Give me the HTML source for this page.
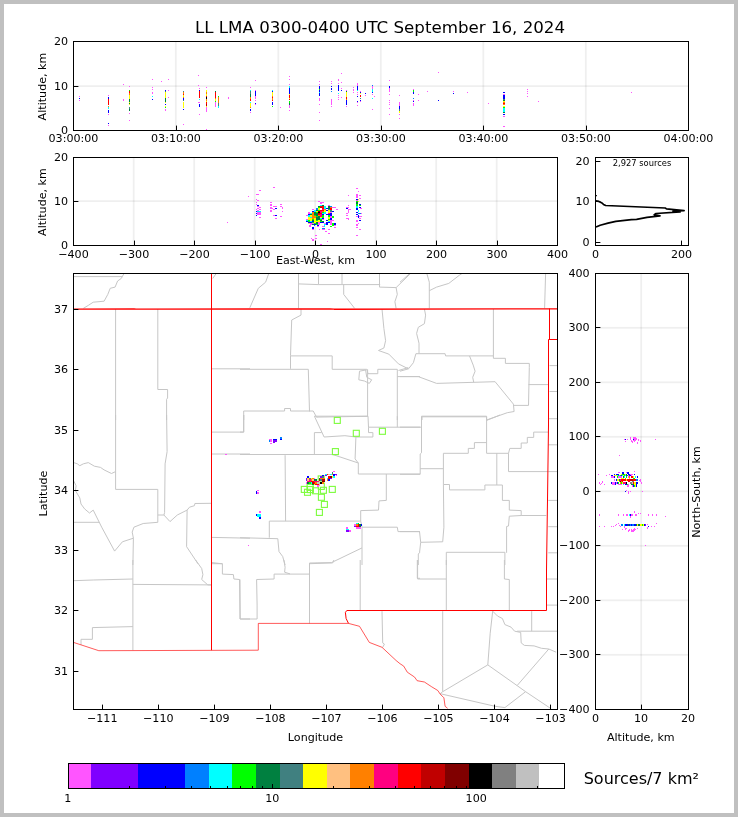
<!DOCTYPE html>
<html lang="en"><head><meta charset="utf-8"><title>LL LMA 0300-0400 UTC September 16, 2024</title>
<style>html,body{margin:0;padding:0;background:#c0c0c0}svg{display:block}text{white-space:pre}</style></head>
<body>
<svg width="738" height="817" viewBox="0 0 738 817" font-family='"DejaVu Sans","Liberation Sans",sans-serif' fill="#000">
<rect width="738" height="817" fill="#c0c0c0"/>
<rect x="4" y="4" width="730" height="809" fill="#fff"/>
<text x="380" y="33" font-size="16.67" text-anchor="middle">LL LMA 0300-0400 UTC September 16, 2024</text>
<rect x="174.9" y="42" width="1.8" height="88" fill="#000" fill-opacity="0.062"/>
<rect x="277.4" y="42" width="1.8" height="88" fill="#000" fill-opacity="0.062"/>
<rect x="379.9" y="42" width="1.8" height="88" fill="#000" fill-opacity="0.062"/>
<rect x="482.4" y="42" width="1.8" height="88" fill="#000" fill-opacity="0.062"/>
<rect x="584.9" y="42" width="1.8" height="88" fill="#000" fill-opacity="0.062"/>
<rect x="74" y="85.2" width="614" height="1.8" fill="#000" fill-opacity="0.062"/>
<g shape-rendering="crispEdges"><path fill="#ff55ff" d="M79 96h1v1h-1zM79 100h1v1h-1zM108 95h1v1h-1zM108 114h1v1h-1zM108 125h1v1h-1zM123 84h1v1h-1zM123 99h1v1h-1zM123 100h1v1h-1zM129 86h1v1h-1zM129 113h1v1h-1zM129 120h1v1h-1zM152 79h1v1h-1zM152 87h1v1h-1zM152 89h1v1h-1zM152 92h1v1h-1zM152 93h1v1h-1zM161 81h1v1h-1zM165 109h1v1h-1zM165 110h1v1h-1zM168 79h1v1h-1zM168 90h1v1h-1zM168 97h1v1h-1zM183 124h1v1h-1zM198 75h1v1h-1zM198 85h1v1h-1zM199 88h1v1h-1zM199 114h1v1h-1zM198 102h2v1h-2zM206 87h1v1h-1zM206 107h1v1h-1zM206 108h1v1h-1zM206 109h1v1h-1zM206 110h1v1h-1zM206 111h1v1h-1zM206 129h1v1h-1zM215 102h1v1h-1zM215 103h1v1h-1zM215 104h1v1h-1zM215 105h1v1h-1zM215 106h1v1h-1zM228 97h1v1h-1zM228 98h1v1h-1zM250 87h1v1h-1zM250 112h1v1h-1zM255 80h1v1h-1zM255 90h1v1h-1zM255 96h1v1h-1zM255 97h1v1h-1zM255 98h1v1h-1zM255 100h1v1h-1zM255 104h1v1h-1zM280 107h1v1h-1zM289 76h1v1h-1zM289 79h1v1h-1zM289 84h1v1h-1zM289 105h1v1h-1zM289 106h1v1h-1zM289 107h1v1h-1zM289 110h1v1h-1zM319 81h1v1h-1zM319 84h1v1h-1zM319 98h1v1h-1zM319 99h1v1h-1zM319 100h1v1h-1zM319 104h1v1h-1zM319 112h1v1h-1zM319 120h1v1h-1zM331 81h1v1h-1zM331 83h1v1h-1zM331 99h1v1h-1zM331 100h1v1h-1zM331 101h1v1h-1zM331 102h1v1h-1zM331 103h1v1h-1zM331 104h1v1h-1zM331 106h1v1h-1zM338 79h1v1h-1zM338 80h1v1h-1zM338 83h1v1h-1zM338 95h1v1h-1zM338 97h1v1h-1zM338 99h1v1h-1zM341 73h1v1h-1zM341 82h1v1h-1zM341 88h1v1h-1zM341 97h1v1h-1zM346 90h1v1h-1zM346 106h1v1h-1zM353 87h1v1h-1zM353 89h1v1h-1zM353 90h1v1h-1zM353 92h1v1h-1zM357 83h1v1h-1zM357 84h1v1h-1zM357 85h1v1h-1zM357 92h1v1h-1zM357 94h1v1h-1zM357 102h1v1h-1zM357 105h1v1h-1zM360 91h1v1h-1zM360 101h1v1h-1zM365 95h1v1h-1zM372 86h1v1h-1zM372 87h1v1h-1zM372 88h1v1h-1zM372 94h1v1h-1zM372 109h1v1h-1zM374 96h1v1h-1zM389 80h1v1h-1zM389 88h1v1h-1zM389 89h1v1h-1zM389 90h1v1h-1zM389 91h1v1h-1zM389 94h1v1h-1zM389 100h1v1h-1zM389 102h1v1h-1zM389 104h1v1h-1zM389 108h1v1h-1zM389 114h1v1h-1zM399 95h1v1h-1zM399 102h1v1h-1zM399 103h1v1h-1zM399 104h1v1h-1zM399 105h1v1h-1zM399 114h1v1h-1zM399 118h1v1h-1zM413 89h1v1h-1zM413 100h1v1h-1zM413 103h1v1h-1zM413 104h1v1h-1zM413 105h1v1h-1zM418 94h1v1h-1zM418 100h1v1h-1zM427 91h1v1h-1zM438 72h1v1h-1zM453 91h1v1h-1zM467 92h1v1h-1zM488 103h1v1h-1zM503 94h2v1h-2zM503 116h2v1h-2zM503 126h2v1h-2zM527 89h1v1h-1zM527 91h1v1h-1zM527 93h1v1h-1zM527 96h1v1h-1zM538 101h1v1h-1zM631 92h1v1h-1z"/><path fill="#0000ff" d="M79 98h1v1h-1zM108 97h1v1h-1zM108 98h1v1h-1zM108 99h1v1h-1zM108 110h1v1h-1zM108 111h1v1h-1zM108 112h1v1h-1zM108 123h1v1h-1zM152 99h1v1h-1zM165 90h1v1h-1zM165 104h1v1h-1zM183 98h1v1h-1zM183 99h1v1h-1zM183 109h1v1h-1zM199 90h1v1h-1zM199 104h1v1h-1zM199 105h1v1h-1zM199 106h1v1h-1zM250 109h1v1h-1zM250 110h1v1h-1zM255 91h1v1h-1zM255 92h1v1h-1zM255 93h1v1h-1zM255 94h1v1h-1zM255 95h1v1h-1zM255 103h1v1h-1zM272 91h1v1h-1zM272 102h1v1h-1zM272 103h1v1h-1zM272 104h1v1h-1zM289 88h1v1h-1zM289 89h1v1h-1zM289 90h1v1h-1zM289 91h1v1h-1zM289 92h1v1h-1zM289 93h1v1h-1zM319 86h1v1h-1zM319 87h1v1h-1zM319 88h1v1h-1zM319 90h1v1h-1zM319 91h1v1h-1zM319 93h1v1h-1zM319 94h1v1h-1zM319 95h1v1h-1zM331 86h1v1h-1zM331 88h1v1h-1zM331 89h1v1h-1zM338 85h1v1h-1zM338 86h1v1h-1zM338 87h1v1h-1zM338 88h1v1h-1zM338 89h1v1h-1zM338 90h1v1h-1zM341 90h1v1h-1zM346 100h1v1h-1zM346 101h1v1h-1zM346 102h1v1h-1zM346 103h1v1h-1zM346 104h1v1h-1zM357 86h1v1h-1zM357 87h1v1h-1zM357 88h1v1h-1zM357 89h1v1h-1zM357 96h1v1h-1zM357 101h1v1h-1zM360 92h1v1h-1zM360 100h1v1h-1zM365 93h1v1h-1zM372 92h1v1h-1zM389 86h1v1h-1zM389 87h1v1h-1zM399 106h1v1h-1zM399 107h1v1h-1zM399 108h1v1h-1zM413 92h1v1h-1zM413 93h1v1h-1zM413 101h1v1h-1zM438 100h1v1h-1zM453 93h1v1h-1zM503 92h2v1h-2zM503 95h2v1h-2zM503 96h2v1h-2zM503 97h2v1h-2zM503 98h2v1h-2zM503 114h2v1h-2z"/><path fill="#ff0000" d="M108 99h1v1h-1zM108 100h1v1h-1zM108 101h1v1h-1zM108 102h1v1h-1zM108 103h1v1h-1zM108 104h1v1h-1zM129 91h1v1h-1zM129 92h1v1h-1zM129 93h1v1h-1zM183 94h1v1h-1zM199 91h1v1h-1zM199 92h1v1h-1zM199 93h1v1h-1zM199 94h1v1h-1zM199 95h1v1h-1zM199 96h1v1h-1zM199 97h1v1h-1zM206 96h1v1h-1zM206 102h1v1h-1zM206 103h1v1h-1zM215 92h1v1h-1zM215 93h1v1h-1zM215 94h1v1h-1zM215 95h1v1h-1zM215 96h1v1h-1zM215 97h1v1h-1zM250 99h1v1h-1zM250 100h1v1h-1zM272 97h1v1h-1zM272 100h1v1h-1zM289 95h1v1h-1zM289 96h1v1h-1zM289 97h1v1h-1zM289 99h1v1h-1zM346 97h1v1h-1zM346 98h1v1h-1zM360 95h1v1h-1zM360 96h1v1h-1zM503 103h2v1h-2z"/><path fill="#ff8000" d="M108 106h1v1h-1zM129 93h1v1h-1zM129 94h1v1h-1zM129 95h1v1h-1zM183 92h1v1h-1zM183 93h1v1h-1zM183 97h1v1h-1zM206 92h1v1h-1zM206 93h1v1h-1zM206 99h1v1h-1zM206 100h1v1h-1zM215 98h1v1h-1zM218 97h1v1h-1zM218 98h1v1h-1zM218 99h1v1h-1zM218 100h1v1h-1zM218 101h1v1h-1zM218 102h1v1h-1zM250 97h1v1h-1zM250 98h1v1h-1zM250 107h1v1h-1zM272 95h1v1h-1zM272 96h1v1h-1zM272 98h1v1h-1zM272 99h1v1h-1zM346 99h1v1h-1zM503 102h2v1h-2zM503 104h2v1h-2z"/><path fill="#00ffff" d="M108 107h1v1h-1zM108 108h1v1h-1zM152 96h1v1h-1zM199 99h1v1h-1zM218 106h1v1h-1zM218 107h1v1h-1zM250 90h1v1h-1zM250 102h1v1h-1zM272 90h1v1h-1zM289 86h1v1h-1zM289 87h1v1h-1zM319 92h1v1h-1zM338 93h1v1h-1zM357 90h1v1h-1zM372 89h1v1h-1zM372 90h1v1h-1zM372 91h1v1h-1zM372 98h1v1h-1zM399 112h1v1h-1zM503 108h2v1h-2zM503 109h2v1h-2zM503 110h2v1h-2zM503 111h2v1h-2z"/><path fill="#00ff00" d="M129 90h1v1h-1zM165 107h1v1h-1zM215 101h1v1h-1zM218 96h1v1h-1zM272 106h1v1h-1zM289 101h1v1h-1zM289 102h1v1h-1zM319 89h1v1h-1zM413 90h1v1h-1zM413 91h1v1h-1zM503 107h2v1h-2z"/><path fill="#ffff00" d="M129 95h1v1h-1zM129 96h1v1h-1zM129 97h1v1h-1zM129 98h1v1h-1zM129 99h1v1h-1zM129 102h1v1h-1zM129 104h1v1h-1zM165 92h1v1h-1zM165 93h1v1h-1zM165 94h1v1h-1zM165 95h1v1h-1zM165 96h1v1h-1zM165 97h1v1h-1zM165 102h1v1h-1zM165 106h1v1h-1zM183 95h1v1h-1zM183 96h1v1h-1zM183 102h1v1h-1zM183 103h1v1h-1zM183 104h1v1h-1zM183 105h1v1h-1zM183 106h1v1h-1zM183 107h1v1h-1zM206 90h1v1h-1zM206 91h1v1h-1zM206 94h1v1h-1zM206 95h1v1h-1zM206 101h1v1h-1zM206 106h1v1h-1zM215 99h1v1h-1zM215 100h1v1h-1zM250 103h1v1h-1zM250 104h1v1h-1zM250 105h1v1h-1zM250 106h1v1h-1zM272 92h1v1h-1zM272 93h1v1h-1zM272 94h1v1h-1zM272 95h1v1h-1zM289 94h1v1h-1zM289 98h1v1h-1zM346 92h1v1h-1zM346 93h1v1h-1zM346 94h1v1h-1zM346 95h1v1h-1zM346 96h1v1h-1zM360 93h1v1h-1zM399 111h1v1h-1zM399 112h1v1h-1zM503 101h2v1h-2zM503 106h2v1h-2z"/><path fill="#008040" d="M129 99h1v1h-1zM129 100h1v1h-1zM129 101h1v1h-1zM129 103h1v1h-1zM129 109h1v1h-1zM129 110h1v1h-1zM165 98h1v1h-1zM165 99h1v1h-1zM165 100h1v1h-1zM165 101h1v1h-1zM215 91h1v1h-1zM250 94h1v1h-1zM250 95h1v1h-1zM250 96h1v1h-1zM289 103h1v1h-1zM289 104h1v1h-1zM346 91h1v1h-1zM503 100h2v1h-2zM503 112h2v1h-2z"/><path fill="#408080" d="M129 107h1v1h-1zM129 108h1v1h-1zM165 91h1v1h-1zM183 91h1v1h-1zM183 100h1v1h-1zM218 103h1v1h-1zM218 104h1v1h-1zM218 105h1v1h-1zM250 91h1v1h-1zM250 92h1v1h-1zM250 93h1v1h-1zM360 98h1v1h-1zM399 109h1v1h-1zM399 110h1v1h-1zM503 99h2v1h-2z"/><path fill="#000000" d="M206 97h1v1h-1zM206 98h1v1h-1z"/><path fill="#c00000" d="M206 104h1v1h-1zM206 105h1v1h-1z"/><path fill="#0080ff" d="M331 91h1v1h-1zM372 85h1v1h-1zM413 98h1v1h-1z"/></g>
<path shape-rendering="crispEdges" d="M73.5 41.5H688.5V130.5H73.5Z" fill="none" stroke="#000" stroke-width="1"/>
<rect x="176" y="125.6" width="1" height="5.4" fill="#000"/>
<rect x="278" y="125.6" width="1" height="5.4" fill="#000"/>
<rect x="381" y="125.6" width="1" height="5.4" fill="#000"/>
<rect x="483" y="125.6" width="1" height="5.4" fill="#000"/>
<rect x="586" y="125.6" width="1" height="5.4" fill="#000"/>
<rect x="73" y="86" width="5.4" height="1" fill="#000"/>
<text x="73.5" y="142" font-size="11.11" text-anchor="middle">03:00:00</text>
<text x="176" y="142" font-size="11.11" text-anchor="middle">03:10:00</text>
<text x="278.5" y="142" font-size="11.11" text-anchor="middle">03:20:00</text>
<text x="381" y="142" font-size="11.11" text-anchor="middle">03:30:00</text>
<text x="483.5" y="142" font-size="11.11" text-anchor="middle">03:40:00</text>
<text x="586" y="142" font-size="11.11" text-anchor="middle">03:50:00</text>
<text x="688.5" y="142" font-size="11.11" text-anchor="middle">04:00:00</text>
<text x="68.2" y="134" font-size="11.11" text-anchor="end">0</text>
<text x="68.2" y="89.5" font-size="11.11" text-anchor="end">10</text>
<text x="68.2" y="45" font-size="11.11" text-anchor="end">20</text>
<text x="46" y="86.5" font-size="11.11" text-anchor="middle" transform="rotate(-90 46 86.5)">Altitude, km</text>
<rect x="132.8" y="158" width="1.8" height="87" fill="#000" fill-opacity="0.062"/>
<rect x="193.3" y="158" width="1.8" height="87" fill="#000" fill-opacity="0.062"/>
<rect x="253.8" y="158" width="1.8" height="87" fill="#000" fill-opacity="0.062"/>
<rect x="314.3" y="158" width="1.8" height="87" fill="#000" fill-opacity="0.062"/>
<rect x="374.8" y="158" width="1.8" height="87" fill="#000" fill-opacity="0.062"/>
<rect x="435.3" y="158" width="1.8" height="87" fill="#000" fill-opacity="0.062"/>
<rect x="495.8" y="158" width="1.8" height="87" fill="#000" fill-opacity="0.062"/>
<rect x="74" y="200.2" width="483" height="1.8" fill="#000" fill-opacity="0.062"/>
<g shape-rendering="crispEdges"><path fill="#ff55ff" d="M318 201h2v1h-2zM320 202h2v1h-2zM322 202h2v1h-2zM320 203h2v1h-2zM328 205h2v1h-2zM332 207h2v1h-2zM334 207h2v1h-2zM312 209h2v1h-2zM336 209h2v1h-2zM308 212h2v1h-2zM330 212h2v1h-2zM308 213h2v1h-2zM306 215h2v1h-2zM330 216h2v1h-2zM330 217h2v1h-2zM306 219h2v1h-2zM322 219h2v1h-2zM330 220h2v1h-2zM332 220h2v1h-2zM330 221h2v1h-2zM318 222h2v1h-2zM330 222h2v1h-2zM310 223h2v1h-2zM312 223h2v1h-2zM318 223h2v1h-2zM324 223h2v1h-2zM330 223h2v1h-2zM310 224h2v1h-2zM318 224h2v1h-2zM330 224h2v1h-2zM309 225h2v2h-2zM312 229h2v1h-2zM317 226h2v1h-2zM319 229h1v1h-1zM322 226h2v1h-2zM322 229h3v1h-3zM328 229h2v1h-2zM325 231h2v1h-2zM328 233h2v1h-2zM334 225h2v1h-2zM315 235h2v1h-2zM315 238h2v1h-2zM311 238h1v1h-1zM312 239h2v2h-2zM327 241h1v1h-1zM320 244h2v1h-2zM334 227h2v1h-2zM227 222h1v1h-1zM248 196h1v1h-1zM259 190h2v1h-2zM256 194h3v1h-3zM256 199h1v1h-1zM257 200h2v1h-2zM256 202h1v1h-1zM256 204h1v1h-1zM257 206h2v1h-2zM259 207h2v1h-2zM257 208h2v1h-2zM256 209h1v1h-1zM259 209h2v1h-2zM257 210h2v1h-2zM257 212h4v1h-4zM257 213h4v1h-4zM257 214h4v1h-4zM259 217h2v1h-2zM273 187h2v1h-2zM270 202h2v1h-2zM270 204h2v1h-2zM270 205h2v1h-2zM273 206h4v1h-4zM280 204h2v1h-2zM280 206h2v1h-2zM270 207h2v1h-2zM270 208h3v1h-3zM282 207h1v1h-1zM282 208h1v1h-1zM273 209h2v1h-2zM270 210h2v1h-2zM270 211h2v1h-2zM282 211h1v1h-1zM273 215h2v1h-2zM280 216h2v1h-2zM275 218h2v1h-2zM348 195h1v1h-1zM348 205h1v1h-1zM346 207h3v1h-3zM348 209h3v1h-3zM348 210h1v1h-1zM348 211h1v1h-1zM348 212h1v1h-1zM346 213h2v1h-2zM346 215h2v1h-2zM346 218h3v1h-3zM348 219h1v1h-1zM356 188h2v1h-2zM358 191h1v1h-1zM356 194h2v1h-2zM356 195h2v1h-2zM359 195h2v1h-2zM356 196h2v1h-2zM356 197h2v1h-2zM359 198h2v1h-2zM356 200h2v1h-2zM360 208h2v1h-2zM361 213h1v1h-1zM359 216h3v1h-3zM356 216h2v1h-2zM359 218h2v1h-2zM356 220h2v1h-2zM356 221h2v1h-2zM358 223h1v1h-1zM356 224h2v1h-2zM356 225h2v1h-2zM356 227h2v1h-2zM359 229h2v1h-2zM356 235h2v1h-2z"/><path fill="#00ffff" d="M320 205h2v1h-2zM324 206h2v1h-2zM324 207h2v1h-2zM324 208h2v1h-2zM314 210h2v1h-2zM314 211h2v1h-2zM324 212h2v1h-2zM310 213h2v1h-2zM322 213h2v1h-2zM324 213h2v1h-2zM308 215h2v1h-2zM308 216h2v1h-2zM310 217h2v1h-2zM320 218h2v1h-2zM306 220h2v1h-2zM310 221h2v1h-2zM328 221h2v1h-2zM324 224h2v1h-2zM324 225h1v2h-1zM257 211h4v1h-4zM356 206h2v1h-2zM356 207h2v1h-2zM358 210h1v1h-1zM358 211h1v1h-1z"/><path fill="#008040" d="M322 205h2v1h-2zM318 206h2v1h-2zM328 206h2v1h-2zM328 207h2v1h-2zM328 208h2v1h-2zM316 210h2v1h-2zM314 212h2v1h-2zM314 213h2v1h-2zM316 213h2v1h-2zM310 214h2v1h-2zM314 214h2v1h-2zM316 214h2v1h-2zM316 215h2v1h-2zM318 216h2v1h-2zM316 217h2v1h-2zM318 217h2v1h-2zM316 218h2v1h-2zM318 218h2v1h-2zM316 219h2v1h-2zM318 219h2v1h-2zM312 220h2v1h-2zM320 220h2v1h-2zM322 221h2v1h-2zM316 222h2v1h-2zM316 223h2v1h-2zM312 224h2v1h-2zM356 202h2v1h-2zM356 203h2v1h-2z"/><path fill="#ff0000" d="M320 206h2v1h-2zM322 206h2v1h-2zM322 207h2v1h-2zM322 208h2v1h-2zM330 208h2v1h-2zM330 209h2v1h-2zM320 210h2v1h-2zM322 210h2v1h-2zM320 213h2v1h-2zM318 214h2v1h-2zM319 207h1v3h-1z"/><path fill="#0080ff" d="M330 206h2v1h-2zM316 208h2v1h-2zM316 209h2v1h-2zM314 225h1v1h-1zM322 228h3v1h-3zM358 213h3v1h-3z"/><path fill="#00ff00" d="M318 207h2v1h-2zM318 210h2v1h-2zM316 212h2v1h-2zM322 212h2v1h-2zM314 215h2v1h-2zM322 215h2v1h-2zM328 215h2v1h-2zM316 216h2v1h-2zM322 216h2v1h-2zM328 216h2v1h-2zM332 216h2v1h-2zM322 217h2v1h-2zM332 217h2v1h-2zM312 219h2v1h-2zM320 219h2v1h-2zM328 219h2v1h-2zM308 220h2v1h-2zM316 220h2v1h-2zM308 221h2v1h-2zM320 221h2v1h-2zM312 222h2v1h-2zM314 223h2v1h-2zM332 223h2v1h-2zM316 224h2v1h-2zM332 224h2v1h-2zM332 225h2v1h-2zM330 226h2v1h-2zM356 201h2v1h-2zM356 204h2v1h-2zM356 205h2v1h-2zM359 205h2v1h-2z"/><path fill="#c00000" d="M320 207h2v1h-2zM318 213h2v1h-2z"/><path fill="#ff8000" d="M330 207h2v1h-2zM324 209h2v1h-2zM322 211h2v1h-2zM312 212h2v1h-2zM312 213h2v1h-2zM312 214h2v1h-2zM312 215h2v1h-2zM318 215h2v1h-2zM312 216h2v1h-2zM314 216h2v1h-2zM312 217h2v1h-2zM314 217h2v1h-2zM312 218h2v1h-2z"/><path fill="#ffff00" d="M318 208h2v1h-2zM318 209h2v1h-2zM324 210h2v1h-2zM328 210h2v1h-2zM316 211h2v1h-2zM324 211h2v1h-2zM328 211h2v1h-2zM328 212h2v1h-2zM310 215h2v1h-2zM310 216h2v1h-2zM308 217h2v1h-2zM320 217h2v1h-2zM328 217h2v1h-2zM308 218h2v1h-2zM310 218h2v1h-2zM314 218h2v1h-2zM328 218h2v1h-2zM308 219h2v1h-2zM310 219h2v1h-2zM314 219h2v1h-2zM310 220h2v1h-2zM314 220h2v1h-2zM318 220h2v1h-2zM328 220h2v1h-2zM314 221h2v1h-2zM316 221h2v1h-2zM318 221h2v1h-2zM314 222h2v1h-2zM358 199h1v1h-1zM358 201h1v1h-1z"/><path fill="#ffffff" d="M320 208h2v1h-2zM320 209h2v1h-2z"/><path fill="#0000ff" d="M326 208h2v1h-2zM326 210h2v1h-2zM312 211h2v1h-2zM332 211h2v1h-2zM330 213h2v1h-2zM308 214h2v1h-2zM322 214h2v1h-2zM326 214h2v1h-2zM328 214h2v1h-2zM330 214h2v1h-2zM330 215h2v1h-2zM322 218h2v1h-2zM330 218h2v1h-2zM330 219h2v1h-2zM326 220h2v1h-2zM306 221h2v1h-2zM312 221h2v1h-2zM308 222h2v1h-2zM310 222h2v1h-2zM320 222h2v1h-2zM322 222h2v1h-2zM326 222h2v1h-2zM328 222h2v1h-2zM326 223h2v1h-2zM334 223h2v1h-2zM314 224h2v1h-2zM326 224h2v1h-2zM334 224h2v1h-2zM312 227h2v2h-2zM317 225h2v1h-2zM257 205h2v1h-2zM256 211h1v1h-1zM256 213h1v1h-1zM256 215h1v1h-1zM275 208h2v1h-2zM275 215h2v1h-2zM346 208h2v1h-2zM356 199h2v1h-2zM359 204h2v1h-2zM359 207h2v1h-2zM356 208h2v1h-2zM356 209h2v1h-2zM356 212h2v1h-2zM356 214h2v1h-2zM358 215h1v1h-1zM358 216h1v1h-1zM358 217h1v1h-1zM359 220h2v1h-2z"/><path fill="#ff0080" d="M322 209h2v1h-2zM320 211h2v1h-2zM320 212h2v1h-2zM328 213h2v1h-2zM320 214h2v1h-2zM320 215h2v1h-2zM320 216h2v1h-2z"/><path fill="#408080" d="M328 209h2v1h-2zM330 210h2v1h-2zM330 211h2v1h-2z"/><path fill="#800000" d="M318 211h2v1h-2z"/><path fill="#000000" d="M318 212h2v1h-2z"/><path fill="#ffc080" d="M308 223h2v1h-2z"/></g>
<path shape-rendering="crispEdges" d="M73.5 157.5H557.5V245.5H73.5Z" fill="none" stroke="#000" stroke-width="1"/>
<rect x="134" y="240.6" width="1" height="5.4" fill="#000"/>
<rect x="194" y="240.6" width="1" height="5.4" fill="#000"/>
<rect x="255" y="240.6" width="1" height="5.4" fill="#000"/>
<rect x="315" y="240.6" width="1" height="5.4" fill="#000"/>
<rect x="376" y="240.6" width="1" height="5.4" fill="#000"/>
<rect x="436" y="240.6" width="1" height="5.4" fill="#000"/>
<rect x="497" y="240.6" width="1" height="5.4" fill="#000"/>
<rect x="73" y="201" width="5.4" height="1" fill="#000"/>
<text x="73.5" y="258" font-size="11.11" text-anchor="middle">−400</text>
<text x="134" y="258" font-size="11.11" text-anchor="middle">−300</text>
<text x="194.5" y="258" font-size="11.11" text-anchor="middle">−200</text>
<text x="255" y="258" font-size="11.11" text-anchor="middle">−100</text>
<text x="315.5" y="258" font-size="11.11" text-anchor="middle">0</text>
<text x="376" y="258" font-size="11.11" text-anchor="middle">100</text>
<text x="436.5" y="258" font-size="11.11" text-anchor="middle">200</text>
<text x="497" y="258" font-size="11.11" text-anchor="middle">300</text>
<text x="557.5" y="258" font-size="11.11" text-anchor="middle">400</text>
<text x="68.2" y="249" font-size="11.11" text-anchor="end">0</text>
<text x="68.2" y="205" font-size="11.11" text-anchor="end">10</text>
<text x="68.2" y="161" font-size="11.11" text-anchor="end">20</text>
<text x="46" y="202" font-size="11.11" text-anchor="middle" transform="rotate(-90 46 202)">Altitude, km</text>
<text x="315.5" y="263.6" font-size="11.11" text-anchor="middle">East-West, km</text>
<path shape-rendering="crispEdges" d="M595.5 157.5H688.5V245.5H595.5Z" fill="none" stroke="#000" stroke-width="1"/>
<rect x="595" y="242" width="5.4" height="1" fill="#000"/>
<rect x="595" y="201" width="5.4" height="1" fill="#000"/>
<rect x="595" y="161" width="5.4" height="1" fill="#000"/>
<rect x="595" y="240.6" width="1" height="5.4" fill="#000"/>
<rect x="681" y="240.6" width="1" height="5.4" fill="#000"/>
<text x="589.6" y="246" font-size="11.11" text-anchor="end">0</text>
<text x="589.6" y="205.1" font-size="11.11" text-anchor="end">10</text>
<text x="589.6" y="165" font-size="11.11" text-anchor="end">20</text>
<text x="595.5" y="258" font-size="11.11" text-anchor="middle">0</text>
<text x="681.5" y="258" font-size="11.11" text-anchor="middle">200</text>
<text x="642" y="166.2" font-size="8.33" text-anchor="middle">2,927 sources</text>
<path d="M596 195V196.3M595.8 200.8 L598.9 201.4 L601.5 202.7 L603.5 204.4 L605.7 205.5 L665.2 208 L666.5 208.9 L684.1 210.6 L673 211.2 L680.2 211.9 L656.1 213.5 L654.2 214.8 L660 215.9 L647 217.4 L636.6 219.3 L631.4 219.7 L615.8 221.3 L608 223.2 L600.2 225.2 L596 227" fill="none" stroke="#000" stroke-width="1.7" stroke-linejoin="round"/>
<clipPath id="mc"><rect x="74" y="274" width="483" height="435"/></clipPath>
<g clip-path="url(#mc)" fill="none" stroke-linejoin="round">
<path d="M73.4 276.6 122.4 276.6M83.4 308.3 88.3 305.4 93.2 302.2 104.1 301.2 107.8 294.4 110.2 288.3 115.1 287.1 117.6 281 121.2 278.5 124.1 273.4M115.6 309 115.6 420M157.8 309 157.8 389.5 167.6 389.5 167.6 398 166.6 399.3 166.6 420M212 368.8 250 368.8M216.3 273.4 212.7 278.5M268.8 273.4 265.6 282.2 258.3 288.3 249.8 307.8M298.5 273.4 298.5 308.3M298.5 283.9 318.5 284.6 380.2 284.6M318.5 273.4 318.5 284.6M342 273.4 342 284.1M379.5 273.4 379.5 287.1 396.1 287.6M343.7 284.6 343.7 294.4 354.6 308.3M410.7 273.4 396.1 287.6 397.3 294.4 394.9 301.7 396.1 308.3M301 309 301 315.1 291.7 320 290.5 355.4 290.5 368.8M290.5 355.9 332.2 355.9 332.2 369.3 366.8 369.3 368 373.7 377.8 373.7 377.8 369.3 397.3 369.3M359.5 371.2 365.6 370 366.8 377.3 371.7 379.8 369.3 383.4 364.4 381 358.8 379.8 359.5 371.2M240 369.3 308.3 369.3 309.5 411.5M367.6 369.3 367.6 416.3M316.8 417.1 368 416.3M397.3 369.3 397.3 420M397.3 376.6 420 376.6M382 309 383.9 328.5 385.6 340.7 383.9 348 378.5 350.5 388.8 354.1 398.5 363.9 408.3 368.8M408.3 367.6 398.5 370.5M243.7 420 243.7 411 284.6 411 284.6 408.5 290.5 408.5 290.5 411 313.2 411 316.8 417.6M409.8 273.4 400 282.2M426.8 273.4 429.3 282.2 429.3 308.3M429.3 290.7 436.6 287.1 448.8 283.4 459.8 274.9 462.2 273.4M545.6 273.4 544.6 308.3M424.4 309 425.6 315.1 424.4 323.7 418.3 327.3 416.6 333.4 419 343.2 419 353.4M415.9 353.7 445.1 353.7 445.6 355.9 493.4 355.9M415.9 353.7 413.4 362.7 408.5 368.8 400 371.2M493.4 309 493.4 358.3 505.4 358.3 505.4 363.4 529.3 363.4 529.3 367.6 528.5 405.4M528.5 384.6 548.3 384.6M469.5 355.9 473.2 365.1 475.1 371.2 472.7 377.3 473.7 382.2M400 376.6 418.3 376.6 436.6 383.4 495.1 381.7 513.4 404.1 514.1 411.5 507.3 412.7 486.6 420M513.4 405.4 528.5 405.4M422 420 422 416.8 486.6 416.8 486.6 420M549.5 365.6 557.3 365.6M549.5 391.5 557.3 391.5M115.6 415 115.6 489.4 157.8 489.4 157.8 522.3M166.6 415 167.1 451.6 165.1 463.8 164.6 512.6 163.9 515M73.7 462.6 77.3 463.8 79.8 465.7 83.4 463.8 88.3 462.6 94.4 466.2 100.5 467.4 104.1 469.9 109 472.3 111.5 473.5 115.1 471.8M73.7 480.9 76.1 485.7 75.4 490.6 79.8 497.9 81 504 84.6 508.9 89.5 513 93.2 510.1 101.7 527.2 114.6 551.1 122.4 541.8 133.4 538.2M73.7 522.3 99.3 522.3M157.8 522.3 143.2 523.5 133.9 527.2 132.2 532.1 133.4 538.2 132.9 565M157.8 515 163.9 515 170 521.6 177.3 515 187.1 510.1 189.5 507.2 194.4 505.7 194.9 503.5 211.5 503.3M187.1 510.1 186.6 546.7 198 563.8M212 432.1 243.7 432.1 243.7 415M212 454 250 454M212 537.4 250 538.2M212 562.6 222.4 563.8M243.7 415 243.7 432.1 240 432.1M314.4 416.2 368 416.2 368.5 427.2 420 427.2M397.3 416.2 397.3 427.2M314.4 416.2 324.1 437 344.9 435.7 355.9 437 372.9 437 372.9 432.6 368.5 432.6 368.5 427.2M355.9 437 355.1 458.9 358.3 463 358.3 474 420 474M321.7 432.6 314.4 432.6 314.4 454.5M240 454.5 332.7 454.5 358.3 463M285.1 455.2 285.6 521.1M360.7 521.1 269.3 521.1 269.3 537.7M240 537.7 277.8 538.7 279 551.6 282.7 556.5 285.1 565M386.3 474 386.3 500.4 379 500.9 378.5 510.1 360.7 510.6 360.7 521.1 362 527.2 397.3 527.2 398 531.6 420 531.6M362 527.2 362 565M362 547.9 331.5 562.6 309.5 563 309.5 565M400 427.2 421.5 427.2M421.5 416.2 486.6 416.2 486.6 453.3M486.6 420.4 500 415M421.5 416.2 421.5 452.8 420.2 454 420.2 474.3 400 474.3M420.2 468.7 443.4 468.7M443.4 453.3 468.3 453.3 468.3 448.4 474.4 448.4 474.4 442.6 486.6 442.6M443.4 453.3 443.4 484.5 443.9 527.2 442.7 541.8 420.7 542.3M486.6 453.3 508.5 453.3 509.8 448.4 521.2 448.4 521.2 443 527.3 443 527.3 437.4 533.7 437.4 533.7 432.1 548.3 432.1M508.5 453.3 508.5 471.6 548.3 471.6M496.8 453.3 496.8 485M443.4 484.5 449.5 484.5 449.5 489.9 484.9 489.9 484.9 485 502.4 485 502.4 500.4 509.3 500.4 509.3 510.1 521.2 510.6 521.2 515.5 546.3 515.5M521.2 515.5 509.3 516.2 508.5 526 506.6 526.5 506.6 552.8M400 531.6 419.5 531.6 420.7 542.3 419.5 552.8 418.3 554 418.3 565M446.3 565 446.3 552.3 504.9 552.3 504.9 565M548.3 418.7 557.3 418.7M548.3 444.8 557.3 444.8M548.3 471.6 557.3 471.6M548.3 500.4 557.3 500.4M548.3 526.7 557.3 526.7M548.3 552.8 557.3 552.8M132.9 560 132.9 650.2M73.7 580.7 93.2 580 132.9 579M132.9 584.4 211 584.9M195.6 560 201.7 568.5 202.9 574.6 201.7 579.5 207.8 584.9 211 584.9M81 644.9 81 639.3 92.4 639.3 92.4 627.6 132.9 626.6M212 563.7 222.4 563.7 222.4 574.1 233.4 574.6 233.9 579 239.5 579.5 240.2 619 250 619M240 579.5 240 619 257.1 619 257.1 605.1 256.6 579.5 274.1 579 274.1 574.1 309.5 574.1M283.9 560 285.1 567.3 284.6 572.2 290 573.9M309.5 623.4 309.5 563.7 332.7 562.9 333.9 560M360.2 560 360.2 610.5M382 611.2 382.7 642.9 384.4 644.1 382.7 647.3M417.3 560 417.3 578.3 420 578.3M417.6 560 417.6 579 446.3 579M446.3 560 446.3 610M504.4 560 504.4 579 509.3 579.5 509.3 610M546.8 579 557.3 579M546.8 605.1 557.3 605.1M442.7 611.2 442.7 691.7M492.7 611.2 490.2 633.2 487.8 664.9M492.7 611.2 497.6 616.1 502.4 618.5 504.9 624.6 511 627.1 514.6 631.2 520.7 632.4 521.2 642.9 524.4 645.4 534.1 645.9 541.5 648.3 548.8 649 556.1 652.2M531.7 611.2 531.7 631.2M517.1 631.2 557.3 631.2M487.8 664.9 442.7 691.7 440.2 693.7M487.8 664.9 517.1 685.6 548.8 649M517.1 685.6 525.6 691.7 551.2 708.8M525.6 691.7 504.9 707.6M440.2 693.7 495.1 706.3 504.9 707.6" stroke="#c6c6c6" stroke-width="1"/>
<path d="M211.5 273.5 211.5 650.2M348.5 623.4 346.1 618.5 345.4 612.4 346.8 610.5 546.5 610.5M546.5 610.5 546.5 570 547.5 500 548.5 425 548.5 339.5 557 339.5M549.5 308.5 549.5 339.5" stroke="#ff0000" stroke-width="1"/>
<path d="M73.5 642.4 98.8 650.7 258.3 650.2 258.3 623.4 348.5 623.4M348.5 623.4 359.5 626.3 369.3 642.4 382 647.3 396.1 660.5 400 663.7 403.7 666.1 407.3 672.2 414.6 677.1 417.1 680.7 424.4 682 431.7 686.8 437.8 690.5 440.2 694.1 443.9 697.8 445.1 706.3 447.6 708.3" stroke="#ff0000" stroke-width="0.65"/>
<path d="M73.5 309.1 134 308.8 136 309.1 330 309 334 309.2 557 308.8" stroke="#ff0000" stroke-width="1.35"/>
</g>
<g fill="none" stroke="#7cfc3c" stroke-width="1.1">
<rect x="301.3" y="486.4" width="6" height="6"/>
<rect x="304.5" y="489.3" width="6" height="6"/>
<rect x="307.4" y="486.6" width="6" height="6"/>
<rect x="312.6" y="487.8" width="6" height="6"/>
<rect x="320.4" y="487.3" width="6" height="6"/>
<rect x="329.3" y="486.4" width="6" height="6"/>
<rect x="318.4" y="494.3" width="6" height="6"/>
<rect x="321.4" y="501.4" width="6" height="6"/>
<rect x="316.4" y="509.4" width="6" height="6"/>
<rect x="318.2" y="475.9" width="6" height="6"/>
<rect x="307.1" y="484.4" width="6" height="6"/>
<rect x="318.3" y="483.4" width="6" height="6"/>
<rect x="334.3" y="417.4" width="6" height="6"/>
<rect x="353.3" y="430.3" width="6" height="6"/>
<rect x="379.4" y="428.3" width="6" height="6"/>
<rect x="332.4" y="448.6" width="6" height="6"/>
</g>
<g shape-rendering="crispEdges"><path fill="#ff55ff" d="M333 471h2v1h-2zM336 475h1v1h-1zM314 478h1v1h-1zM306 482h1v2h-1zM317 485h2v2h-2zM269 439h3v3h-3zM270 443h2v1h-2zM257 490h2v1h-2zM257 492h2v2h-2zM259 511h2v2h-2zM248 545h1v1h-1zM354 524h2v2h-2zM356 527h5v2h-5zM346 527h2v2h-2zM349 530h2v2h-2zM225 454h2v1h-2z"/><path fill="#408080" d="M332 472h1v2h-1zM322 476h2v2h-2zM309 478h2v1h-2zM320 479h2v2h-2z"/><path fill="#00ffff" d="M325 474h2v1h-2zM330 474h2v1h-2zM333 476h2v2h-2zM327 478h1v1h-1zM311 482h1v2h-1zM257 514h4v3h-4zM356 523h2v1h-2zM346 529h3v1h-3z"/><path fill="#ff0000" d="M327 474h1v1h-1zM328 476h2v2h-2zM328 478h2v1h-2zM311 481h3v1h-3zM314 482h1v2h-1zM315 484h4v1h-4zM356 526h3v1h-3zM358 524h1v2h-1z"/><path fill="#ffc080" d="M328 474h2v1h-2zM307 479h2v2h-2zM312 479h2v2h-2zM319 484h1v1h-1zM319 485h1v1h-1z"/><path fill="#ff8000" d="M332 474h1v1h-1zM312 478h2v1h-2zM320 478h5v1h-5zM311 479h1v2h-1zM327 479h1v2h-1zM315 482h2v2h-2zM322 482h2v2h-2zM356 524h2v2h-2z"/><path fill="#0000ff" d="M333 474h2v1h-2zM333 475h2v1h-2zM322 475h2v1h-2zM307 476h2v2h-2zM328 479h2v2h-2zM273 439h4v1h-4zM280 439h2v1h-2zM256 491h1v3h-1zM256 514h1v2h-1zM259 517h2v2h-2zM361 524h1v2h-1z"/><path fill="#8000ff" d="M335 474h2v1h-2zM325 475h2v1h-2zM320 476h2v2h-2zM306 478h1v1h-1zM330 478h2v1h-2zM306 479h1v2h-1zM273 440h4v2h-4zM273 442h2v1h-2zM354 526h2v1h-2zM346 530h3v2h-3z"/><path fill="#800000" d="M330 476h2v2h-2zM322 481h3v1h-3z"/><path fill="#ffff00" d="M332 476h1v2h-1zM307 478h2v1h-2zM311 478h1v1h-1zM314 484h1v1h-1z"/><path fill="#008040" d="M319 478h1v1h-1zM314 479h3v2h-3zM307 482h2v2h-2zM312 484h2v1h-2zM359 524h2v3h-2z"/><path fill="#ff0080" d="M309 479h2v2h-2zM307 481h4v1h-4zM314 481h5v1h-5z"/><path fill="#c00000" d="M319 479h1v2h-1zM322 479h3v2h-3zM312 482h2v2h-2z"/><path fill="#00ff00" d="M309 482h2v2h-2zM358 523h1v1h-1z"/><path fill="#c0c0c0" d="M317 482h3v2h-3z"/><path fill="#000000" d="M320 482h2v2h-2z"/><path fill="#0080ff" d="M269 440h1v2h-1zM280 437h2v2h-2z"/></g>
<path shape-rendering="crispEdges" d="M73.5 273.5H557.5V709.5H73.5Z" fill="none" stroke="#000" stroke-width="1"/>
<rect x="73" y="309" width="5.4" height="1" fill="#000"/>
<rect x="73" y="369" width="5.4" height="1" fill="#000"/>
<rect x="73" y="430" width="5.4" height="1" fill="#000"/>
<rect x="73" y="490" width="5.4" height="1" fill="#000"/>
<rect x="73" y="550" width="5.4" height="1" fill="#000"/>
<rect x="73" y="610" width="5.4" height="1" fill="#000"/>
<rect x="73" y="671" width="5.4" height="1" fill="#000"/>
<rect x="102" y="704.6" width="1" height="5.4" fill="#000"/>
<rect x="158" y="704.6" width="1" height="5.4" fill="#000"/>
<rect x="214" y="704.6" width="1" height="5.4" fill="#000"/>
<rect x="270" y="704.6" width="1" height="5.4" fill="#000"/>
<rect x="326" y="704.6" width="1" height="5.4" fill="#000"/>
<rect x="382" y="704.6" width="1" height="5.4" fill="#000"/>
<rect x="438" y="704.6" width="1" height="5.4" fill="#000"/>
<rect x="494" y="704.6" width="1" height="5.4" fill="#000"/>
<rect x="550" y="704.6" width="1" height="5.4" fill="#000"/>
<text x="68.2" y="313.2" font-size="11.11" text-anchor="end">37</text>
<text x="68.2" y="373.4" font-size="11.11" text-anchor="end">36</text>
<text x="68.2" y="433.6" font-size="11.11" text-anchor="end">35</text>
<text x="68.2" y="493.8" font-size="11.11" text-anchor="end">34</text>
<text x="68.2" y="554" font-size="11.11" text-anchor="end">33</text>
<text x="68.2" y="614.3" font-size="11.11" text-anchor="end">32</text>
<text x="68.2" y="674.5" font-size="11.11" text-anchor="end">31</text>
<text x="102.2" y="722" font-size="11.11" text-anchor="middle">−111</text>
<text x="158.3" y="722" font-size="11.11" text-anchor="middle">−110</text>
<text x="214.4" y="722" font-size="11.11" text-anchor="middle">−109</text>
<text x="270.4" y="722" font-size="11.11" text-anchor="middle">−108</text>
<text x="326.4" y="722" font-size="11.11" text-anchor="middle">−107</text>
<text x="382.4" y="722" font-size="11.11" text-anchor="middle">−106</text>
<text x="438.4" y="722" font-size="11.11" text-anchor="middle">−105</text>
<text x="494.5" y="722" font-size="11.11" text-anchor="middle">−104</text>
<text x="550.6" y="722" font-size="11.11" text-anchor="middle">−103</text>
<text x="315.5" y="741" font-size="11.11" text-anchor="middle">Longitude</text>
<text x="47" y="493.5" font-size="11.11" text-anchor="middle" transform="rotate(-90 47 493.5)">Latitude</text>
<rect x="596" y="326.9" width="92" height="1.8" fill="#000" fill-opacity="0.062"/>
<rect x="596" y="381.4" width="92" height="1.8" fill="#000" fill-opacity="0.062"/>
<rect x="596" y="435.9" width="92" height="1.8" fill="#000" fill-opacity="0.062"/>
<rect x="596" y="490.4" width="92" height="1.8" fill="#000" fill-opacity="0.062"/>
<rect x="596" y="544.9" width="92" height="1.8" fill="#000" fill-opacity="0.062"/>
<rect x="596" y="599.4" width="92" height="1.8" fill="#000" fill-opacity="0.062"/>
<rect x="596" y="653.9" width="92" height="1.8" fill="#000" fill-opacity="0.062"/>
<rect x="640.3" y="274" width="1.8" height="435" fill="#000" fill-opacity="0.062"/>
<g shape-rendering="crispEdges"><path fill="#ff55ff" d="M634 471h1v1h-1zM618 472h1v1h-1zM619 472h1v1h-1zM626 472h1v1h-1zM609 474h1v1h-1zM630 474h1v1h-1zM631 474h1v1h-1zM632 474h1v1h-1zM628 475h1v1h-1zM631 475h1v1h-1zM611 476h1v2h-1zM612 476h1v2h-1zM613 476h1v2h-1zM618 476h1v2h-1zM619 476h1v2h-1zM620 476h1v2h-1zM621 476h1v2h-1zM628 476h1v2h-1zM614 479h1v2h-1zM612 482h1v2h-1zM613 482h1v2h-1zM614 482h1v2h-1zM616 482h1v2h-1zM612 484h1v1h-1zM613 484h1v1h-1zM614 484h1v1h-1zM618 484h1v1h-1zM619 484h1v1h-1zM620 484h1v1h-1zM621 484h1v1h-1zM628 484h1v1h-1zM627 485h1v2h-1zM628 485h1v2h-1zM632 485h1v2h-1zM640 479h1v1h-1zM639 480h1v1h-1zM640 480h1v1h-1zM640 481h1v1h-1zM641 482h1v2h-1zM598 474h1v1h-1zM606 475h1v1h-1zM595 481h1v1h-1zM599 482h1v2h-1zM600 484h1v1h-1zM601 483h1v1h-1zM602 481h1v2h-1zM604 484h1v1h-1zM626 490h1v1h-1zM628 491h1v3h-1zM630 491h1v1h-1zM642 491h1v1h-1zM624 439h1v1h-1zM625 441h1v1h-1zM627 439h1v1h-1zM630 437h1v3h-1zM631 440h1v2h-1zM632 441h1v2h-1zM633 437h1v4h-1zM634 437h1v5h-1zM635 437h1v4h-1zM636 438h1v2h-1zM638 439h1v2h-1zM637 442h1v2h-1zM640 440h1v2h-1zM655 439h1v1h-1zM619 455h1v1h-1zM599 514h1v2h-1zM618 514h1v2h-1zM623 514h1v2h-1zM626 514h1v2h-1zM627 514h1v2h-1zM631 514h1v2h-1zM632 514h1v2h-1zM635 514h1v2h-1zM636 514h1v2h-1zM648 514h1v2h-1zM652 514h1v2h-1zM656 514h1v2h-1zM630 516h1v2h-1zM665 516h1v1h-1zM634 511h1v2h-1zM638 513h1v1h-1zM640 513h1v1h-1zM599 526h1v1h-1zM604 526h1v1h-1zM611 526h1v1h-1zM613 526h1v1h-1zM615 525h1v1h-1zM616 524h1v1h-1zM618 523h1v1h-1zM645 525h1v1h-1zM647 524h1v1h-1zM651 526h1v1h-1zM654 526h1v1h-1zM656 523h1v1h-1zM619 525h1v1h-1zM620 526h1v1h-1zM647 527h1v2h-1zM624 526h1v2h-1zM622 529h1v1h-1zM625 528h1v2h-1zM626 528h1v1h-1zM628 530h1v2h-1zM629 529h1v2h-1zM631 529h1v3h-1zM632 530h1v2h-1zM633 529h1v3h-1zM634 528h1v3h-1zM635 529h1v1h-1zM637 528h1v1h-1zM645 545h1v1h-1z"/><path fill="#0000ff" d="M622 472h1v1h-1zM623 472h1v1h-1zM627 472h1v1h-1zM628 472h1v1h-1zM622 473h1v1h-1zM623 473h1v1h-1zM627 473h1v1h-1zM628 473h1v1h-1zM614 474h1v1h-1zM616 474h1v1h-1zM617 474h1v1h-1zM618 474h1v1h-1zM628 474h1v1h-1zM629 474h1v1h-1zM634 474h1v1h-1zM611 475h1v1h-1zM612 475h1v1h-1zM621 475h1v1h-1zM626 475h1v1h-1zM629 475h1v1h-1zM630 475h1v1h-1zM614 476h1v2h-1zM637 476h1v2h-1zM616 479h1v2h-1zM611 482h1v2h-1zM615 482h1v2h-1zM617 482h1v2h-1zM636 482h1v2h-1zM637 482h1v2h-1zM615 484h1v1h-1zM625 484h1v1h-1zM626 484h1v1h-1zM636 484h1v1h-1zM633 485h1v2h-1zM636 485h1v2h-1zM625 491h1v1h-1zM625 439h1v1h-1zM633 439h1v1h-1zM630 514h1v2h-1zM625 524h1v2h-1zM626 524h1v2h-1zM627 524h1v2h-1zM629 524h1v2h-1zM631 524h1v2h-1zM634 524h1v2h-1zM635 524h1v2h-1zM644 524h1v2h-1zM648 526h1v1h-1z"/><path fill="#ffff00" d="M621 474h1v1h-1zM625 474h1v1h-1zM614 475h1v1h-1zM615 475h1v1h-1zM616 475h1v1h-1zM623 475h1v1h-1zM633 476h1v2h-1zM621 478h1v1h-1zM622 478h1v1h-1zM623 478h1v1h-1zM629 478h1v1h-1zM617 479h1v2h-1zM618 479h1v2h-1zM626 479h1v2h-1zM622 482h1v2h-1zM634 482h1v2h-1zM635 482h1v2h-1zM634 484h1v1h-1zM635 484h1v1h-1zM635 485h1v2h-1zM637 524h1v2h-1zM640 524h1v2h-1zM641 524h1v2h-1zM643 524h1v2h-1z"/><path fill="#00ff00" d="M622 474h1v1h-1zM624 474h1v1h-1zM618 475h1v1h-1zM620 475h1v1h-1zM624 475h1v1h-1zM627 475h1v1h-1zM617 476h1v2h-1zM626 476h1v2h-1zM633 478h1v1h-1zM634 478h1v1h-1zM618 482h1v2h-1zM621 482h1v2h-1zM627 484h1v1h-1zM634 485h1v2h-1zM642 524h1v2h-1z"/><path fill="#008040" d="M623 474h1v1h-1zM626 474h1v1h-1zM623 476h1v2h-1zM619 479h1v2h-1zM631 484h1v1h-1zM632 484h1v1h-1zM633 484h1v1h-1zM628 524h1v2h-1zM636 524h1v2h-1zM638 524h1v2h-1zM639 524h1v2h-1z"/><path fill="#00ffff" d="M617 475h1v1h-1zM619 475h1v1h-1zM622 475h1v1h-1zM625 475h1v1h-1zM624 476h1v2h-1zM635 476h1v2h-1zM623 484h1v1h-1zM629 514h1v2h-1zM624 524h1v2h-1z"/><path fill="#ff8000" d="M629 476h1v2h-1zM625 478h1v1h-1zM619 481h1v1h-1zM621 481h1v1h-1zM620 482h1v2h-1z"/><path fill="#ff0000" d="M631 476h1v2h-1zM632 476h1v2h-1zM621 479h1v2h-1zM622 479h1v2h-1zM623 479h1v2h-1zM624 479h1v2h-1zM625 479h1v2h-1zM627 479h1v2h-1zM628 479h1v2h-1zM629 479h1v2h-1zM633 479h1v2h-1zM634 479h1v2h-1zM635 479h1v2h-1zM622 481h1v1h-1zM628 481h1v1h-1zM629 481h1v1h-1zM633 482h1v2h-1z"/><path fill="#ff0080" d="M620 479h1v2h-1zM623 482h1v2h-1zM624 482h1v2h-1zM625 482h1v2h-1z"/><path fill="#c00000" d="M630 479h1v2h-1zM631 479h1v2h-1zM632 479h1v2h-1z"/><path fill="#0080ff" d="M636 479h1v2h-1zM637 479h1v2h-1zM621 524h1v2h-1zM622 524h1v2h-1zM630 524h1v2h-1zM632 524h1v2h-1zM633 524h1v2h-1z"/><path fill="#800000" d="M620 481h1v1h-1z"/><path fill="#808080" d="M632 481h1v1h-1zM633 481h1v1h-1zM630 482h1v2h-1zM631 482h1v2h-1z"/><path fill="#000000" d="M626 482h1v2h-1z"/><path fill="#ffffff" d="M627 482h1v2h-1zM628 482h1v2h-1zM629 482h1v2h-1z"/><path fill="#c0c0c0" d="M632 482h1v2h-1z"/><path fill="#8000ff" d="M645 524h1v2h-1z"/></g>
<path shape-rendering="crispEdges" d="M595.5 273.5H688.5V709.5H595.5Z" fill="none" stroke="#000" stroke-width="1"/>
<rect x="595" y="327" width="5.4" height="1" fill="#000"/>
<rect x="595" y="382" width="5.4" height="1" fill="#000"/>
<rect x="595" y="436" width="5.4" height="1" fill="#000"/>
<rect x="595" y="491" width="5.4" height="1" fill="#000"/>
<rect x="595" y="545" width="5.4" height="1" fill="#000"/>
<rect x="595" y="600" width="5.4" height="1" fill="#000"/>
<rect x="595" y="654" width="5.4" height="1" fill="#000"/>
<rect x="641" y="704.6" width="1" height="5.4" fill="#000"/>
<text x="589.6" y="277" font-size="11.11" text-anchor="end">400</text>
<text x="589.6" y="331.2" font-size="11.11" text-anchor="end">300</text>
<text x="589.6" y="385.7" font-size="11.11" text-anchor="end">200</text>
<text x="589.6" y="440.2" font-size="11.11" text-anchor="end">100</text>
<text x="589.6" y="494.7" font-size="11.11" text-anchor="end">0</text>
<text x="589.6" y="549.2" font-size="11.11" text-anchor="end">−100</text>
<text x="589.6" y="603.7" font-size="11.11" text-anchor="end">−200</text>
<text x="589.6" y="658.2" font-size="11.11" text-anchor="end">−300</text>
<text x="589.6" y="713" font-size="11.11" text-anchor="end">−400</text>
<text x="595.5" y="722" font-size="11.11" text-anchor="middle">0</text>
<text x="641" y="722" font-size="11.11" text-anchor="middle">10</text>
<text x="688" y="722" font-size="11.11" text-anchor="middle">20</text>
<text x="640.8" y="741" font-size="11.11" text-anchor="middle">Altitude, km</text>
<text x="700.3" y="492" font-size="11.11" text-anchor="middle" transform="rotate(-90 700.3 492)">North-South, km</text>
<g shape-rendering="crispEdges">
<rect x="68" y="763" width="23" height="25" fill="#ff55ff"/>
<rect x="91" y="763" width="47" height="25" fill="#8000ff"/>
<rect x="138" y="763" width="47" height="25" fill="#0000ff"/>
<rect x="185" y="763" width="24" height="25" fill="#0080ff"/>
<rect x="209" y="763" width="23" height="25" fill="#00ffff"/>
<rect x="232" y="763" width="24" height="25" fill="#00ff00"/>
<rect x="256" y="763" width="24" height="25" fill="#008040"/>
<rect x="280" y="763" width="23" height="25" fill="#408080"/>
<rect x="303" y="763" width="24" height="25" fill="#ffff00"/>
<rect x="327" y="763" width="23" height="25" fill="#ffc080"/>
<rect x="350" y="763" width="24" height="25" fill="#ff8000"/>
<rect x="374" y="763" width="24" height="25" fill="#ff0080"/>
<rect x="398" y="763" width="23" height="25" fill="#ff0000"/>
<rect x="421" y="763" width="24" height="25" fill="#c00000"/>
<rect x="445" y="763" width="24" height="25" fill="#800000"/>
<rect x="469" y="763" width="23" height="25" fill="#000000"/>
<rect x="492" y="763" width="24" height="25" fill="#808080"/>
<rect x="516" y="763" width="23" height="25" fill="#c0c0c0"/>
<rect x="539" y="763" width="25" height="25" fill="#ffffff"/>
<rect x="129" y="786" width="1" height="2" fill="#000"/>
<rect x="165" y="786" width="1" height="2" fill="#000"/>
<rect x="191" y="786" width="1" height="2" fill="#000"/>
<rect x="210" y="786" width="1" height="2" fill="#000"/>
<rect x="227" y="786" width="1" height="2" fill="#000"/>
<rect x="240" y="786" width="1" height="2" fill="#000"/>
<rect x="252" y="786" width="1" height="2" fill="#000"/>
<rect x="262" y="786" width="1" height="2" fill="#000"/>
<rect x="333" y="786" width="1" height="2" fill="#000"/>
<rect x="369" y="786" width="1" height="2" fill="#000"/>
<rect x="395" y="786" width="1" height="2" fill="#000"/>
<rect x="414" y="786" width="1" height="2" fill="#000"/>
<rect x="430" y="786" width="1" height="2" fill="#000"/>
<rect x="444" y="786" width="1" height="2" fill="#000"/>
<rect x="456" y="786" width="1" height="2" fill="#000"/>
<rect x="466" y="786" width="1" height="2" fill="#000"/>
<rect x="537" y="786" width="1" height="2" fill="#000"/>
<rect x="68" y="784" width="1" height="4" fill="#000"/>
<rect x="272" y="784" width="1" height="4" fill="#000"/>
<rect x="476" y="784" width="1" height="4" fill="#000"/>
</g>
<path shape-rendering="crispEdges" d="M68.5 763.5H564.5V788.5H68.5Z" fill="none" stroke="#000" stroke-width="1"/>
<text x="67.9" y="802" font-size="11.11" text-anchor="middle">1</text>
<text x="272.3" y="802" font-size="11.11" text-anchor="middle">10</text>
<text x="476.2" y="802" font-size="11.11" text-anchor="middle">100</text>
<text x="641.3" y="784.2" font-size="16" text-anchor="middle">Sources/7 km²</text>
</svg>
</body></html>
